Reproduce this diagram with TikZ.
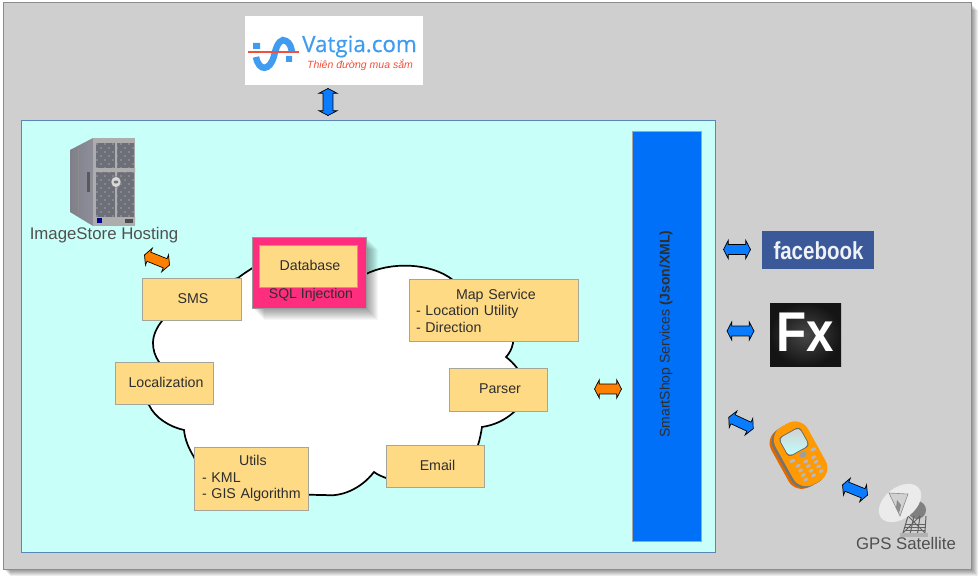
\documentclass[tikz,border=0pt]{standalone}
\usepackage{fontspec}
\setmainfont{Liberation Sans}
\newfontfamily\logofont[FakeBold=0.5]{Open Sans}
\usetikzlibrary{shapes.arrows,shadings}
\definecolor{framefill}{HTML}{CFCFCF}
\definecolor{frameline}{HTML}{8C8C8C}
\definecolor{panelfill}{HTML}{C8FFF8}
\definecolor{panelline}{HTML}{5A86B8}
\definecolor{blockfill}{HTML}{FFDA84}
\definecolor{blockline}{HTML}{A5A59A}
\definecolor{pinkfill}{HTML}{FF2D7E}
\definecolor{busblue}{HTML}{0070F8}
\definecolor{arrowblue}{HTML}{0A7CFF}
\definecolor{arroworange}{HTML}{FF7F00}
\definecolor{inktext}{HTML}{2E2E2E}
\definecolor{softtext}{HTML}{505050}
\definecolor{vatblue}{HTML}{3F9CF0}
\definecolor{vatred}{HTML}{F0503C}
\definecolor{fbblue}{HTML}{3B5998}
\definecolor{phoneorange}{HTML}{FF9A05}
\definecolor{phonedark}{HTML}{E06A00}
\definecolor{srvside}{HTML}{8E8E9A}
\definecolor{srvpanel}{HTML}{6C6E78}
\definecolor{srvcheck}{HTML}{85878F}
\tikzset{
  blockbox/.style={draw=blockline,line width=0.9pt,fill=blockfill,inner sep=0pt,text=inktext,
    font=\fontsize{14.2}{16.5}\selectfont,align=left},
  dblarrow/.style={shape=double arrow,draw=black,line width=0.7pt,inner sep=4.6pt,
    double arrow head extend=4.2pt,double arrow tip angle=125,minimum height=27pt},
  bluearrow/.style={dblarrow,fill=arrowblue},
  orangearrow/.style={dblarrow,fill=arroworange},
  softlabel/.style={text=softtext,inner sep=0pt,font=\fontsize{16.8}{18}\selectfont},
}
\begin{document}
\begin{tikzpicture}[x=1pt,y=-1pt]
\useasboundingbox (0,0) rectangle (980,578);
\fill[white] (0,0) rectangle (980,578);
% outer frame
\foreach \s in {1,...,7}{
  \fill[black,opacity=0.07] (3+\s,3+\s) rectangle (971+\s,569+\s);
}
\node[draw=frameline,line width=1pt,fill=framefill,minimum width=968pt,minimum height=566pt,inner sep=0pt] (frame) at (487,286) {};
% Vatgia logo
\node[fill=white,minimum width=178pt,minimum height=69pt,inner sep=0pt] (vatgia) at (334,50.5) {};
\draw[vatblue,line width=6.5pt] (256,57) .. controls (259,72) and (270,71) .. (274,56) .. controls (277,42) and (282,38) .. (286,41) .. controls (290,43) and (291,47) .. (292,52);
\fill[vatblue] (253,43) rectangle (260,49) (286,56) rectangle (292,62);
\draw[vatred,line width=2pt] (248,52.5) -- (299,52.5);
\node[text=vatblue,inner sep=0pt,font=\logofont\fontsize{22.4}{24}\selectfont] (vatname) at (359.5,46.5) {Vatgia.com};
\node[text=vatred,inner sep=0pt,font=\fontsize{10.5}{12}\selectfont\itshape] (vatslogan) at (360,65) {Thiên đường mua sắm};
% panel
\node[draw=panelline,line width=1pt,fill=panelfill,minimum width=694pt,minimum height=432pt,inner sep=0pt] (panel) at (368,336) {};
\node[bluearrow,rotate=90] (a1) at (328,102) {};
% server
\shade[left color=srvside!90!black,right color=srvside] (70,150) -- (93,138) -- (93,226) -- (70,212) -- cycle;
\draw[black!45,line width=0.4pt] (78,148) -- (78,214);
\fill[black!32] (93,138) rectangle (135,226);
\fill[srvpanel] (96,143) rectangle (115,168) (117,143) rectangle (134,168) (96,172) rectangle (115,217) (117,172) rectangle (134,217);
\foreach \cx in {96,100,...,132}{\foreach \cy in {143,147,...,215}{
  \pgfmathparse{int(mod((\cx-96)/4+(\cy-143)/4,2))}
  \ifnum\pgfmathresult=0 \fill[srvcheck] (\cx,\cy) rectangle (\cx+2,\cy+2);\fi
}}
\fill[black!32] (115,142) rectangle (117,226) (94,168) rectangle (135,172) (94,217) rectangle (135,225);
\fill[black!15,draw=black!50,line width=0.5pt] (116,182) ellipse (5pt and 5.5pt);
\fill[black!55] (116,182) ellipse (2.5pt and 1.5pt);
\fill[black!65] (87,172) rectangle (90,192);
\fill[blue!60!black] (97,218) rectangle (102,223);
\fill[black!70] (125,219) rectangle (133,223);
\node[softlabel] (hosting) at (104,235.5) {ImageStore Hosting};
% cloud
\draw[black,line width=1.7pt,fill=white]
  (238,278) .. controls (243,274) and (248,271) .. (254,267)
  .. controls (280,262) and (340,280) .. (366,274)
  .. controls (390,262) and (430,262) .. (453,280)
  .. controls (490,290) and (515,315) .. (513,343)
  .. controls (512,349) and (509,354) .. (506,357)
  .. controls (510,360) and (514,364) .. (517,368)
  .. controls (530,385) and (530,400) .. (514,412)
  .. controls (505,420) and (495,425) .. (482,427)
  .. controls (481,433) and (480,439) .. (478,445)
  .. controls (470,465) and (420,480) .. (386,478)
  .. controls (381,476) and (378,475) .. (374,472)
  .. controls (360,490) and (340,497) .. (325,495)
  .. controls (290,495) and (205,490) .. (194,457)
  .. controls (189,449) and (185,440) .. (184,430)
  .. controls (170,427) and (155,418) .. (149,405)
  .. controls (135,395) and (145,375) .. (159,362)
  .. controls (155,356) and (153,350) .. (153,343)
  .. controls (153,335) and (157,327) .. (162,321)
  .. controls (170,300) and (210,285) .. (238,278) -- cycle;
% pink box shadow
\foreach \s in {1,...,12}{
  \fill[black,opacity=0.035] (252+\s,237+\s) rectangle (366+\s,308+\s);
}
\node[draw=black!40,line width=0.9pt,fill=pinkfill,minimum width=114pt,minimum height=71pt,inner sep=0pt] (sqlbox) at (309,272.5) {};
\node[blockbox,minimum width=98pt,minimum height=42pt,align=center] (db) at (308,266) {\hspace*{4pt}\raisebox{1.2pt}{Database}};
\node[inner sep=0pt,text=inktext,font=\fontsize{14}{16}\selectfont] (sqltext) at (311,294.5) {SQL Injection};
% blocks
\node[blockbox,minimum width=99pt,minimum height=42pt,align=center] (sms) at (191.5,299) {\hspace*{3pt}SMS};
\node[blockbox,minimum width=169pt,minimum height=62pt,text width=155pt] (map) at (493.5,310.5) {\hspace*{40pt}Map Service\\- Location Utility\\- Direction};
\node[blockbox,minimum width=98pt,minimum height=43pt,align=center] (parser) at (498,389.5) {\hspace*{4pt}\raisebox{1pt}{Parser}};
\node[blockbox,minimum width=98pt,minimum height=42pt,align=center] (email) at (435,466) {\hspace*{5pt}\raisebox{1.2pt}{Email}};
\node[blockbox,minimum width=114pt,minimum height=63pt,text width=98pt] (utils) at (251,478.5) {\hspace*{37pt}Utils\\- KML\\\mbox{- GIS Algorithm}};
\node[blockbox,minimum width=98pt,minimum height=42pt,align=center] (local) at (164,383) {\hspace*{4pt}\raisebox{1.5pt}{Localization}};
% service bus
\node[draw=black!35,line width=0.8pt,fill=busblue,minimum width=69pt,minimum height=410pt,inner sep=0pt] (bus) at (666.5,336) {};
\node[rotate=90,inner sep=0pt,text=inktext,font=\fontsize{14}{16}\selectfont] (bustext) at (666,334) {SmartShop Services \textbf{(Json/XML)}};
% arrows
\node[orangearrow,rotate=-22] (a2) at (157,260) {};
\node[orangearrow] (a3) at (608,389) {};
\node[bluearrow] (a4) at (737,249.5) {};
\node[bluearrow] (a5) at (740.5,331) {};
\node[bluearrow,rotate=-25] (a6) at (741,423) {};
\node[bluearrow,rotate=-22] (a7) at (855,490) {};
% facebook
\node[fill=fbblue,minimum width=112pt,minimum height=38pt,inner sep=0pt] (fb) at (818,250) {};
\node[text=white!92!fbblue,inner sep=0pt,yscale=1.2,font=\fontsize{20.5}{24}\selectfont\bfseries] (fbtext) at (818.5,251) {facebook};
% Fx
\shade[inner color=black!72,outer color=black!92] (770,303) rectangle (841,366);
\node[text=white,inner sep=0pt,xscale=0.88,font=\fontsize{56}{60}\selectfont\bfseries] (fx) at (805.5,332) {Fx};
% phone
\begin{scope}[shift={(798.5,455.5)},rotate=29,scale=0.88]
  \fill[phonedark,rounded corners=15pt] (-24,-37) rectangle (18,37);
  \fill[black!55,rounded corners=15pt] (-21,-37.5) rectangle (22,37.5);
  \fill[phoneorange,rounded corners=15pt] (-18,-38) rectangle (24,37);
  \fill[black!60,rounded corners=4pt] (-11,-28.5) rectangle (17,-3.5);
  \shade[top color=black!18,bottom color=cyan!25!white,rounded corners=4pt] (-10,-27.5) rectangle (16,-4.5);
  \fill[black!38] (5,1.5) ellipse (4.5pt and 3.5pt);
  \fill[black!28] (-9,2) ellipse (3.5pt and 2pt) (18,2) ellipse (3.5pt and 2pt);
  \foreach \x in {-6,4,14}{\foreach \y in {10,16,22,28}{
    \fill[black!28] (\x,\y) ellipse (3pt and 1.8pt);}}
\end{scope}
% dish tower
\fill[black!50] (917,510) circle (9pt);
\foreach \k in {0,1,2,3}{
  \draw[black!62,line width=1pt] (908+\k*6,516) -- (903+\k*7.3,533);
  \draw[black!62,line width=0.8pt] (905,524+\k*3) -- (925,524+\k*3);
}
\draw[black!62,line width=0.8pt] (903,533) -- (920,516) (925,533) -- (908,516);
\fill[black!30] (900,533) rectangle (928,537);
% dish
\fill[black!8,rotate around={38:(900,503)}] (900,503) ellipse (24pt and 15.5pt);
\fill[black!22,opacity=0.7] (889,493) -- (908,494) -- (900,516) -- cycle;
\fill[black!45] (897,500) -- (901,505) -- (899,513) -- (896,508) -- cycle;
\draw[black!45,line width=0.6pt] (889,493) -- (908,494) -- (900,516) -- cycle;
\node[softlabel] (gps) at (906,543) {GPS Satellite};
\end{tikzpicture}
\end{document}
